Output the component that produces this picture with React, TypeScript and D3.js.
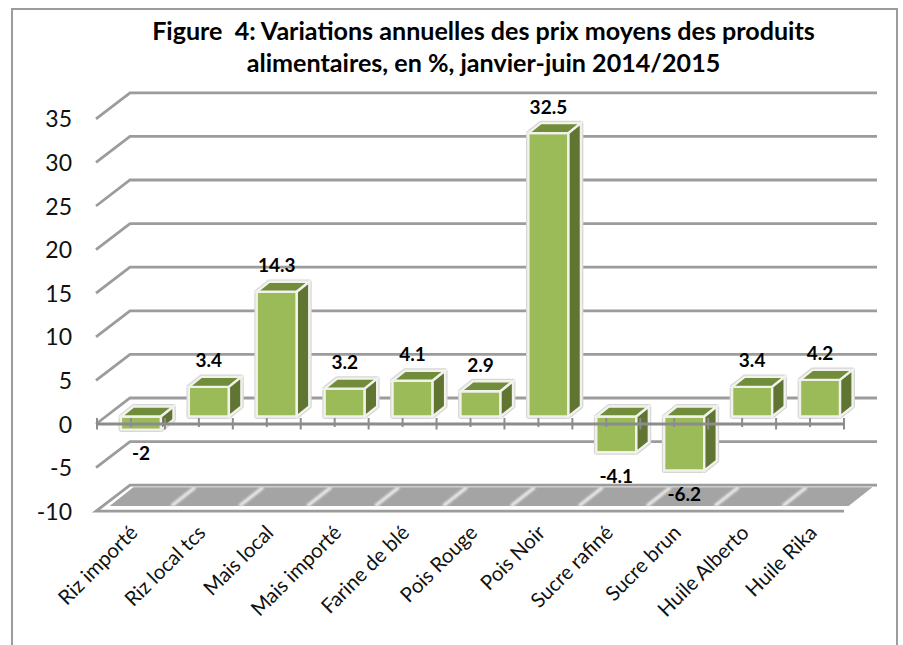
import React, { useRef, useEffect } from 'react';
import * as d3 from 'd3';

const titleLines = [
  'Figure  4: Variations annuelles des prix moyens des produits',
  'alimentaires, en %, janvier-juin 2014/2015',
];
const categories = [
  'Riz importé',
  'Riz local tcs',
  'Mais local',
  'Mais importé',
  'Farine de blé',
  'Pois Rouge',
  'Pois Noir',
  'Sucre rafiné',
  'Sucre brun',
  'Huile Alberto',
  'Huile Rika',
];
// first bar is drawn shorter than its rounded label
const values = [-1.5, 3.4, 14.3, 3.2, 4.1, 2.9, 32.5, -4.1, -6.2, 3.4, 4.2];
const valueLabels = ['-2', '3.4', '14.3', '3.2', '4.1', '2.9', '32.5', '-4.1', '-6.2', '3.4', '4.2'];
const yTicks = [-10, -5, 0, 5, 10, 15, 20, 25, 30, 35];

const width = 903;
const height = 645;
const font = 'Lato, sans-serif';
const gridColor = '#9c9c9c';

// oblique offset of the back wall
const depthX = 33;
const depthY = 26;
// oblique offset of a bar's own depth, and where it sits on the floor
const barDepthX = 12.5;
const barDepthY = 10;
const barShiftX = 10;
const barShiftY = 7.5;

const App: React.FC = () => {
  const svgRef = useRef<SVGSVGElement>(null);

  useEffect(() => {
    const svg = d3.select(svgRef.current);
    svg.selectAll('*').remove();

    const x = d3
      .scaleBand<string>()
      .domain(categories)
      .range([97, 844])
      .paddingInner(0.41)
      .paddingOuter(0.205);
    const y = d3.scaleLinear().domain([-10, 35]).range([511.2, 118.8]);
    const step = x.step();
    const left = 97;
    const right = 844;

    const poly = (pts: [number, number][]) => pts.map(p => p.join(',')).join(' ');

    const defs = svg.append('defs');
    defs
      .append('filter')
      .attr('id', 'soft')
      .append('feGaussianBlur')
      .attr('stdDeviation', 0.6);
    defs
      .append('filter')
      .attr('id', 'softer')
      .append('feGaussianBlur')
      .attr('stdDeviation', 1.1);

    // Frame, no bottom edge
    svg
      .append('path')
      .attr('d', `M12,${height} V9 H897 V${height}`)
      .attr('fill', 'none')
      .attr('stroke', '#9c9c9c')
      .attr('stroke-width', 2);

    // Title
    titleLines.forEach((line, i) => {
      svg
        .append('text')
        .attr('x', 483.5)
        .attr('y', 40 + i * 32)
        .attr('text-anchor', 'middle')
        .style('white-space', 'pre')
        .style('font-family', font)
        .style('font-weight', 700)
        .style('font-size', '25.1px')
        .attr('fill', '#000')
        .text(line);
    });

    // Grid lines on side and back walls
    const grid = svg.append('g').attr('filter', 'url(#soft)');
    yTicks
      .filter(t => t !== -10)
      .forEach(t => {
        grid
          .append('path')
          .attr('d', `M${left - 1},${y(t)} L${left + depthX},${y(t) - depthY} H${right + depthX}`)
          .attr('fill', 'none')
          .attr('stroke', gridColor)
          .attr('stroke-width', 2.8);
      });

    // Floor
    const floorPoint = (px: number, t: number): [number, number] => [
      px + depthX * t,
      y(-10) - depthY * t,
    ];
    const floor = svg.append('g');
    floor
      .append('polygon')
      .attr(
        'points',
        poly([
          floorPoint(left + 6, 0.2),
          floorPoint(right - 2, 0.2),
          floorPoint(right - 2, 0.92),
          floorPoint(left + 6, 0.92),
        ])
      )
      .attr('fill', '#a4a4a4');
    const stripes = floor.append('g').attr('filter', 'url(#softer)');
    d3.range(1, categories.length).forEach(i => {
      const px = left + i * step;
      const a = floorPoint(px, 0.2);
      const b = floorPoint(px, 0.92);
      stripes
        .append('line')
        .attr('x1', a[0])
        .attr('y1', a[1])
        .attr('x2', b[0])
        .attr('y2', b[1])
        .attr('stroke', '#ededed')
        .attr('stroke-width', 3.2);
    });
    const [fx0, fy0] = floorPoint(left, 0);
    const [fx1, fy1] = floorPoint(right, 0);
    const [bx0, by0] = floorPoint(left, 1);
    const [bx1] = floorPoint(right, 1);
    floor
      .append('path')
      .attr('d', `M${fx1},${fy1} L${fx0 - 1},${fy0} L${bx0},${by0} H${bx1}`)
      .attr('fill', 'none')
      .attr('stroke', gridColor)
      .attr('stroke-width', 2.8)
      .attr('filter', 'url(#soft)');

    // Bars
    const barsG = svg.append('g');
    categories.forEach((cat, i) => {
      const x0 = (x(cat) as number) + barShiftX;
      const x1 = x0 + x.bandwidth();
      const base = y(0) - barShiftY;
      const valueY = base + (y(values[i]) - y(0));
      const top = Math.min(base, valueY);
      const bottom = Math.max(base, valueY);
      const g = barsG.append('g');

      const outline = poly([
        [x0, top],
        [x0 + barDepthX, top - barDepthY],
        [x1 + barDepthX, top - barDepthY],
        [x1 + barDepthX, bottom - barDepthY],
        [x1, bottom],
        [x0, bottom],
      ]);
      g.append('polygon')
        .attr('points', outline)
        .attr('fill', '#fff')
        .attr('stroke', '#d6d6d6')
        .attr('stroke-width', 4.8)
        .attr('stroke-linejoin', 'round');

      const faceStroke = '#f1f2ec';
      g.append('polygon')
        .attr('points', poly([[x0, top], [x1, top], [x1, bottom], [x0, bottom]]))
        .attr('fill', '#9bbb59')
        .attr('stroke', faceStroke)
        .attr('stroke-width', 2.4);
      g.append('polygon')
        .attr(
          'points',
          poly([[x0, top], [x0 + barDepthX, top - barDepthY], [x1 + barDepthX, top - barDepthY], [x1, top]])
        )
        .attr('fill', '#718c3a')
        .attr('stroke', faceStroke)
        .attr('stroke-width', 2.4);
      g.append('polygon')
        .attr(
          'points',
          poly([[x1, top], [x1 + barDepthX, top - barDepthY], [x1 + barDepthX, bottom - barDepthY], [x1, bottom]])
        )
        .attr('fill', '#5f7531')
        .attr('stroke', faceStroke)
        .attr('stroke-width', 2.4);
    });

    // Zero axis with long ticks between bands and short ones at band centres
    const axis = svg.append('g').attr('stroke', '#8c8c8c').attr('filter', 'url(#soft)');
    axis
      .append('line')
      .attr('x1', left)
      .attr('x2', right)
      .attr('y1', y(0))
      .attr('y2', y(0))
      .attr('stroke-width', 2.8);
    d3.range(0, categories.length * 2 + 1).forEach(i => {
      const px = left + (i * step) / 2;
      axis
        .append('line')
        .attr('x1', px)
        .attr('x2', px)
        .attr('y1', y(0) - 6)
        .attr('y2', y(0) + (i % 2 === 0 ? 5.5 : 3))
        .attr('stroke-width', 2);
    });

    // Y labels
    yTicks.forEach(t => {
      svg
        .append('text')
        .attr('x', 72)
        .attr('y', y(t) + 8.5)
        .attr('text-anchor', 'end')
        .style('font-family', font)
        .style('font-size', '23px')
        .attr('fill', '#111')
        .text(t);
    });

    // Data labels
    categories.forEach((cat, i) => {
      const cx = (x(cat) as number) + barShiftX + x.bandwidth() / 2;
      const base = y(0) - barShiftY;
      const valueY = base + (y(values[i]) - y(0));
      const ly = values[i] >= 0 ? valueY - barDepthY - 9.5 : valueY + 30.5;
      svg
        .append('text')
        .attr('x', cx)
        .attr('y', ly)
        .attr('text-anchor', 'middle')
        .style('font-family', font)
        .style('font-weight', 700)
        .style('font-size', '19px')
        .attr('fill', '#000')
        .text(valueLabels[i]);
    });

    // Category labels
    categories.forEach(cat => {
      const cx = (x(cat) as number) + x.bandwidth() / 2;
      svg
        .append('text')
        .attr('text-anchor', 'end')
        .attr('transform', `translate(${cx + 8},${534}) rotate(-45)`)
        .style('font-family', font)
        .style('font-size', '20.4px')
        .attr('fill', '#111')
        .text(cat);
    });
  }, []);

  return (
    <svg
      ref={svgRef}
      width={width}
      height={height}
      viewBox={`0 0 ${width} ${height}`}
      style={{ position: 'absolute', left: 0, top: 0, background: '#fff' }}
    />
  );
};

export default App;
